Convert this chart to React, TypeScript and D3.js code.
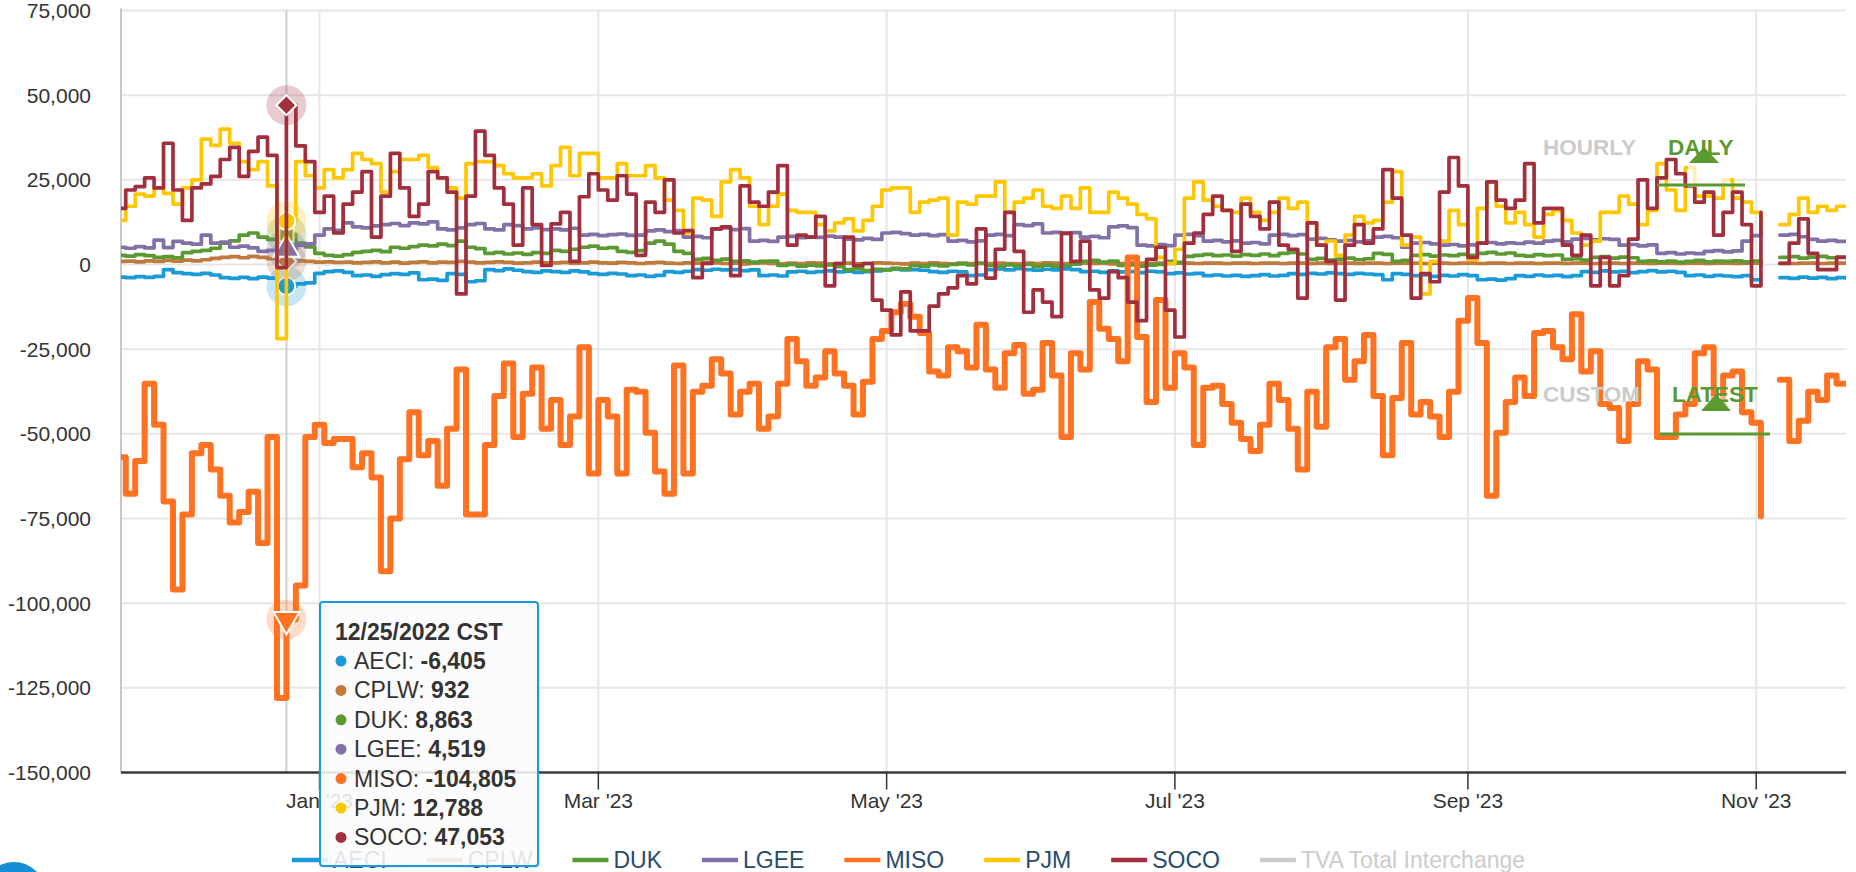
import React, { useRef, useEffect } from 'react';
import * as d3 from 'd3';

const WIDTH = 1856;
const HEIGHT = 872;
const PLOT = { left: 121, right: 1846, top: 10.5, bottom: 772.5 };
const FONT = '"Liberation Sans", Arial, Helvetica, sans-serif';
const DAY_MS = 86400000;

// one value every STEP_DAYS days, starting FIRST_DAY (values in thousands of MW)
const FIRST_DAY = Date.UTC(2022, 10, 19);
const STEP_DAYS = 2;
const HOVER_INDEX = 18; // 12/25/2022

const X_DOMAIN = [new Date(Date.UTC(2022, 10, 20)), new Date(Date.UTC(2023, 10, 20))];
const X_TICKS = [Date.UTC(2023, 0, 1), Date.UTC(2023, 2, 1), Date.UTC(2023, 4, 1), Date.UTC(2023, 6, 1), Date.UTC(2023, 8, 1), Date.UTC(2023, 10, 1)];
const X_TICK_LABELS = ["Jan '23", "Mar '23", "May '23", "Jul '23", "Sep '23", "Nov '23"];
const Y_TICKS = [-150000, -125000, -100000, -75000, -50000, -25000, 0, 25000, 50000, 75000];

const AECI = [
  -3.7, -3.9, -3.6, -3.8, -3.5, -1.5, -2.4, -2.7, -2.9, -2.6, -3.1, -3.9, -4.1, -3.8, -4.2, -3.7, -4.0, -5.0, -6.405, -5.7,
  -5.4, -2.6, -2.1, -1.9, -2.3, -3.3, -3.1, -3.5, -3.0, -2.7, -2.9, -2.5, -4.5, -4.3, -4.7, -2.7, -2.9, -5.1, -4.8, -1.5,
  -1.8, -1.3, -1.7, -2.1, -2.3, -1.9,
  -2.1, -2.3, -1.9, -2.2, -2.7, -2.9, -2.6, -2.8, -3.3, -3.1, -3.5, -3.2, -2.1, -2.3, -2.0, -1.5, -1.7, -1.4, -1.6, -1.5,
  -1.8, -1.6, -3.3, -3.1, -3.4, -2.2, -2.0, -2.3, -2.1, -1.9, -2.2, -2.0, -2.3, -2.1, -1.9, -1.5, -1.4, -1.6, -1.5, -1.7,
  -2.1, -2.3, -2.0, -2.2, -3.3, -3.1,
  -1.5, -1.3, -1.6, -1.2, -1.5, -1.7, -1.4, -1.6, -1.3, -1.5, -2.1, -2.0, -2.3, -1.9, -2.2, -2.1, -2.4, -2.0, -2.2, -2.7,
  -2.5, -2.8, -2.6, -3.3, -3.1, -3.4, -3.2, -3.5, -3.3, -3.0, -3.4, -3.2, -2.7, -2.9, -2.6, -2.8, -2.5, -2.7, -2.9, -2.6,
  -2.8, -3.0, -4.5, -2.7, -2.9,
  -3.3, -3.1, -3.5, -3.2, -3.4, -3.0, -3.3, -4.5, -4.3, -4.6, -4.2, -3.3, -3.5, -3.1, -3.4, -3.2, -3.6, -3.3, -2.1, -2.3,
  -1.9, -2.2, -2.0, -2.4, -2.1, -1.8, -2.2, -2.0, -2.3, -3.3, -3.1, -3.5, -3.2, -3.4, -3.6, -3.3, -4.5, -4.7, null,
  -3.9, -4.1, -3.7, -4.0, -3.8, -4.2, -3.9, -4.0,
];

const CPLW = [
  0.9, 1.0, 0.8, 1.1, 0.9, 1.2, 1.0, 1.3, 1.1, 1.4, 1.8, 2.1, 2.3, 2.0, 2.4, 2.1, 1.7, 1.2, 0.932, 1.1,
  0.9, 0.7, 0.8, 0.6, 0.7, 0.5, 0.6, 0.8, 0.5, 0.7, 0.4, 0.6, 0.8, 0.5, 0.7, 0.6, 0.9, 0.7, 0.5, 0.6,
  0.8, 0.6, 0.4, 0.5, 0.7, 0.5,
  0.5, 0.6, 0.4, 0.5, 0.7, 0.5, 0.4, 0.6, 0.5, 0.3, 0.5, 0.6, 0.4, 0.3, 0.5, 0.4, 0.6, 0.5, 0.3, 0.4,
  0.2, 0.4, 0.5, 0.3, 0.2, 0.4, 0.3, 0.5, 0.4, 0.2, 0.3, 0.4, 0.2, 0.3, 0.5, 0.4, 0.3, 0.2, 0.4, 0.3,
  0.5, 0.3, 0.2, 0.4, 0.3, 0.4,
  0.3, 0.4, 0.3, 0.2, 0.4, 0.3, 0.5, 0.4, 0.3, 0.2, 0.4, 0.3, 0.4, 0.2, 0.3, 0.5, 0.4, 0.3, 0.4, 0.3,
  0.4, 0.4, 0.3, 0.4, 0.4, 0.3, 0.4, 0.4, 0.3, 0.4, 0.4, 0.3, 0.4, 0.4, 0.3, 0.4, 0.3, 0.4, 0.4, 0.3,
  0.4, 0.4, 0.3, 0.4, 0.4,
  0.4, 0.3, 0.4, 0.4, 0.3, 0.4, 0.4, 0.3, 0.4, 0.4, 0.3, 0.4, 0.4, 0.3, 0.4, 0.4, 0.3, 0.4, 0.4, 0.3,
  0.4, 0.4, 0.3, 0.4, 0.4, 0.3, 0.4, 0.4, 0.3, 0.4, 0.4, 0.3, 0.4, 0.4, 0.3, 0.4, 0.4, 0.3, null,
  0.4, 0.3, 0.4, 0.4, 0.3, 0.4, 0.4, 0.3,
];

const DUK = [
  2.7, 2.5, 2.9, 2.6, 2.1, 2.3, 2.0, 3.5, 3.9, 4.2, 4.8, 6.3, 7.0, 8.7, 9.3, 8.1, 7.4, 6.9, 8.863, 6.3,
  5.2, 3.3, 2.7, 2.5, 2.9, 3.6, 3.9, 4.2, 3.8, 5.1, 4.8, 5.3, 5.7, 5.5, 6.0, 5.6, 6.9, 5.1, 4.7, 3.3,
  3.6, 3.1, 3.4, 3.0, 3.5, 3.3,
  4.2, 3.9, 4.5, 5.1, 5.4, 4.8, 5.0, 3.9, 3.6, 4.1, 6.3, 6.9, 6.0, 3.9, 3.3, 1.5, 1.8, 1.2, 1.6, 0.9,
  1.1, 0.7, 0.9, 1.0, -0.3, 0.0, -0.5, -0.2, -0.4, -0.1, -0.6, -1.5, -1.2, -1.8, -1.4, -1.6, -1.1, -1.3, -0.3, -0.5,
  -0.1, -0.4, 0.0, 0.2, -0.1, 0.3,
  -0.3, -0.5, -0.1, -0.4, 0.0, -0.6, -0.2, -0.5, -0.3, 0.1, 0.9, 1.2, 0.7, 1.0, -0.3, -0.1, -0.5, -0.2, 0.0, 0.9,
  0.6, 2.4, 2.7, 3.0, 2.6, 2.8, 2.5, 2.9, 2.7, 3.1, 2.6, 3.3, 3.6, 3.1, 1.5, 1.8, 1.3, 1.6, 1.9, 1.4,
  1.7, 3.3, 3.0, 0.9, 1.2,
  2.7, 2.9, 2.5, 2.8, 2.6, 3.0, 2.7, 3.3, 3.6, 3.1, 3.4, 2.7, 2.5, 2.9, 2.6, 2.8, 1.5, 1.7, 1.3, 2.1,
  2.3, 1.9, 2.2, 2.0, 0.9, 1.1, 0.8, 1.0, 0.7, 0.9, 1.2, 0.8, 1.0, 0.9, 1.1, 0.8, 1.0, 0.9, null,
  2.1, 2.3, 1.9, 2.2, 2.4, 2.0, 2.2, 2.1,
];

const LGEE = [
  5.1, 4.8, 5.3, 4.9, 7.2, 5.0, 6.8, 6.3, 6.0, 8.7, 6.3, 6.6, 5.1, 5.4, 4.9, 3.9, 4.2, 3.7, 4.519, 5.7,
  6.1, 8.7, 10.5, 10.1, 12.3, 11.1, 10.8, 11.4, 11.8, 12.1, 11.5, 12.3, 12.0, 12.6, 10.5, 10.2, 10.8, 11.8, 12.1, 10.5,
  10.2, 11.8, 11.5, 10.5, 10.8, 10.3,
  10.5, 10.2, 10.7, 8.7, 8.9, 8.5, 8.8, 9.0, 8.6, 8.7, 9.9, 10.2, 9.7, 10.0, 8.1, 8.3, 7.9, 10.5, 10.8, 10.3,
  10.6, 6.9, 7.1, 6.8, 8.1, 8.3, 7.9, 8.2, 8.0, 8.4, 8.1, 7.5, 7.3, 7.7, 7.4, 9.3, 9.5, 9.1, 8.7, 8.9,
  8.5, 8.8, 6.9, 7.1, 6.7, 7.0,
  8.7, 8.9, 8.5, 11.8, 11.5, 12.0, 9.3, 9.5, 9.1, 9.4, 8.1, 8.3, 7.9, 11.1, 11.4, 10.9, 5.7, 5.5, 5.9, 5.6,
  8.7, 8.9, 8.5, 6.9, 7.1, 6.7, 7.0, 6.3, 6.5, 6.1, 8.7, 8.9, 8.5, 8.8, 7.5, 7.7, 7.3, 6.9, 7.1, 6.7,
  7.0, 8.1, 8.3, 7.9, 5.1,
  6.3, 6.5, 6.1, 5.7, 5.9, 5.5, 5.8, 6.3, 6.5, 6.1, 6.4, 6.2, 6.6, 6.3, 6.9, 7.1, 6.7, 7.5, 7.7, 7.3,
  7.6, 7.4, 5.7, 5.9, 5.5, 5.8, 3.3, 3.5, 3.1, 3.4, 3.2, 3.9, 4.1, 3.7, 4.0, 6.9, 8.5, 10.5, null,
  8.7, 8.9, 8.2, 7.4, 6.9, 7.1, 6.8, 6.9,
];

const MISO = [
  -56.9, -67.7, -58, -35.2, -47.3, -70, -96, -73.8, -55.7, -53.3, -60.5, -68.3, -76.2, -73.1, -67.1, -82.2, -50.9, -128, -104.805, -94.8,
  -50.9, -47.3, -52.7, -51.5, -51.5, -59.9, -55.7, -62.9, -90.6, -75, -57.5, -43.6, -56.3, -52.1, -65.3, -48.5, -31, -73.8, -73.8, -53.3,
  -38.8, -29.2, -50.9, -38.2, -30.4, -48.5, -40, -53.3, -44.9, -24.4, -61.7, -40, -44.9, -61.7, -37, -37.6, -49.7, -61.1, -67.7, -29.8,
  -61.7, -37.6, -35.8, -28, -32.2, -44.3, -37.6, -35.2, -48.5, -44.9, -35.2, -22, -28.6, -35.8, -33.4, -25.6, -32.2, -35.8, -44.3, -34.6,
  -22, -19.6, -14.1, -11.7, -15.4, -20.2, -31.6, -32.8, -24.4, -25.6, -30.4, -17.8, -31, -36.4, -26.2, -23.8, -38.2, -37, -23.2, -32.8,
  -50.9, -26.2, -31, -11.1, -19, -22, -28.6, 2.1, -21.4, -40.6, -10.5, -36.4, -26.2, -30.4, -53.3, -36.4, -35.8, -41.2, -46.7, -51.5,
  -55.1, -47.3, -35.2, -40, -48.5, -60.5, -37.6, -47.9, -24.4, -22, -34, -28.6, -20.8, -38.8, -56.3, -39.4, -23.2, -44.3, -40.6, -44.9,
  -50.9, -37.6, -16.6, -9.9, -23.2, -68.3, -49.7, -40.6, -33.4, -38.8, -20.2, -19.6, -24.4, -28, -14.7, -31.6, -25.6, -41.2, -42.4, -52.1,
  -41.2, -28.6, -31, -50.9, -50.9, -44.3, -41.2, -26.2, -24.4, -41.2, -32.8, -31.6, -43.6, -46.7, -74.3, null, -34, -52.1, -46.1, -37.6,
  -40, -32.8, -35.2, -35.2,
];

const PJM = [
  13, 17.2, 20.8, 20.2, 22.6, 21, 17.8, 22.6, 25, 37, 35.2, 40, 35.8, 30.4, 28, 30.4, 23.2, -21.9, 12.788, 30.4,
  26.2, 22.6, 28, 25.6, 28, 32.8, 31, 29.8, 21.4, 27.4, 31, 31, 32.2, 28.6, 25.6, 22.6, 19.6, 29.8, 30.4, 30.4,
  29.2, 26.8, 25.6, 25.6, 26.8, 23.2, 29.2, 34.6, 26.2, 32.8, 32.8, 25.6, 25.6, 29.8, 26.2, 26.2, 29.2, 25.6, 19, 16,
  9.3, 19.6, 19, 14.2, 24.4, 28, 25.6, 17.2, 11.8, 17.2, 20.8, 16, 15.4, 15.4, 11.8, 9.9, 12.3, 13.5, 9.9, 13,
  17.2, 22, 22.6, 22.6, 15.4, 18.4, 19, 19.6, 8.7, 18.4, 17.8, 20.2, 20.2, 24.4, 15.4, 18.4, 19.6, 22, 17.2, 16.6,
  20.2, 16.6, 22.6, 15.4, 15.4, 21.4, 19.6, 17.8, 14.8, 13.5, 2.1, 0.3, 4.5, 19.6, 24.4, 19, 17.2, 16, 15.4, 19.6,
  15.4, 13, 15.4, 19.6, 16.6, 18.4, 12.3, 5.7, 6.9, 2.7, 8.7, 14.2, 12.3, 13, 18.4, 27.4, 5.7, 8.1, -8.7, 0.9,
  6.9, 16, 11.8, 1.5, 16.6, 24.4, 17.2, 12.3, 15.4, 11.8, 8.1, 14.8, 16, 13, 9.3, 5.7, 6.9, 15.4, 15.4, 20.2,
  17.8, 11.8, 16, 29.8, 22, 16, 28.6, 20.2, 20.2, 19.6, 25, 19.6, 18.4, 15.4, 10.5, null, 11.8, 14.8, 19.6, 15.4,
  17.2, 16, 17.2, 17.2,
];

const SOCO = [
  16.6, 22, 23, 25.6, 22.6, 35.8, 22, 13, 22.6, 23.8, 26, 31, 34.6, 26, 33.4, 37.6, 32.2, -0.9, 47.053, 35,
  30.4, 15.4, 20.2, 9.3, 17.8, 21.4, 27.4, 8.1, 20.2, 32.8, 22.6, 14.2, 17.8, 27.4, 25.6, 21.4, -8.7, 20.2, 39.4, 32.2,
  22.6, 17.8, 5.7, 22.6, 11.8, -0.3, 12, 15.4, 0.9, 20, 26.8, 22, 19, 26.2, 20.8, 2.7, 18.4, 15.4, 25, 9.3,
  10, -3.9, 0.3, 10.5, 11.1, -3.3, 23.2, 18.4, 17.2, 21.4, 29.2, 5.7, 8.7, 8.1, 14.2, -6.3, 0.3, 8.1, -0.3, 0.3,
  -10.5, -13.5, -20.8, -8.1, -19.6, -19.6, -12.3, -8.7, -6.9, -3.3, -5.7, 10.5, -4, 4.5, 15.4, 3.9, -14.1, -7.5, -11.1, -15.4,
  9.3, 0.9, 6.9, -7.5, -9.9, -2.1, -3.9, -11.1, -16.6, 1.5, 5.1, -13.5, -21.4, 6.3, 9.3, 14.8, 20.2, 16, 3.9, 17.8,
  14.2, 10.5, 18.4, 5.7, 4.5, -9.9, 12.3, 5.7, 0.9, -10.5, 5.7, 11.8, 6.3, 10.5, 28, 19.6, 8.7, -9.9, -2.7, -5.1,
  21.4, 31.6, 23.2, 2.1, 6.3, 24.4, 19, 16.6, 19, 29.8, 12.3, 16.6, 16.6, 5.7, 2.7, 8.7, -6.3, 2.1, -6.3, -3.3,
  7.5, 25, 16.6, 25.6, 31, 26.8, 23.2, 18.4, 21.4, 8.7, 15.4, 21.4, 11.8, -6.3, 15.4, null, 0.3, 6.3, 13.5, 3.3,
  -1.5, -1.5, 2.1, 2.1,
];

const SERIES_NAMES = ['AECI', 'CPLW', 'DUK', 'LGEE', 'MISO', 'PJM', 'SOCO', 'TVA Total Interchange'];
const SERIES_VALUES = [AECI, CPLW, DUK, LGEE, MISO, PJM, SOCO, []];
const SERIES_COLORS = ['#1b9ad8', '#c07a3c', '#5b9a32', '#8171a6', '#ff7222', '#ffc700', '#a22f3e', '#cccccc'];
const SERIES_WIDTHS = [3.7, 3.7, 3.7, 3.7, 6, 3.7, 3.7, 3.7];
const SERIES_SYMBOLS = ['circle', 'diamond', 'square', 'triangle', 'triangle-down', 'circle', 'diamond', 'square'];
const SERIES_HIDDEN = [false, false, false, false, false, false, false, true];

type Pt = { date: Date; value: number | null };

export default function App() {
  const svgRef = useRef<SVGSVGElement>(null);

  useEffect(() => {
    const svg = d3.select(svgRef.current);
    svg.selectAll('*').remove();

    const x = d3.scaleUtc().domain(X_DOMAIN).range([PLOT.left, PLOT.right]);
    const y = d3.scaleLinear().domain([-150000, 75000]).range([PLOT.bottom, PLOT.top]);
    const fmt = d3.formatLocale({ decimal: '.', thousands: ',', grouping: [3], currency: ['$', ''], minus: '-' }).format(',');

    const series = SERIES_NAMES.map((name, i) => ({
      name,
      color: SERIES_COLORS[i],
      width: SERIES_WIDTHS[i],
      symbol: SERIES_SYMBOLS[i],
      hidden: SERIES_HIDDEN[i],
      points: (SERIES_VALUES[i] as (number | null)[]).map((v, k) => ({
        date: new Date(FIRST_DAY + k * STEP_DAYS * DAY_MS),
        value: v == null ? null : Math.round(v * 1000),
      })) as Pt[],
    }));

    svg.append('rect').attr('width', WIDTH).attr('height', HEIGHT).attr('fill', '#fff');

    // Grid
    svg.append('g').selectAll('line')
      .data(Y_TICKS.filter(t => t !== -150000))
      .join('line')
      .attr('x1', PLOT.left).attr('x2', PLOT.right)
      .attr('y1', d => y(d)).attr('y2', d => y(d))
      .attr('stroke', '#e6e6e6').attr('stroke-width', 2);

    svg.append('g').selectAll('line')
      .data(X_TICKS)
      .join('line')
      .attr('x1', d => x(new Date(d))).attr('x2', d => x(new Date(d)))
      .attr('y1', PLOT.top).attr('y2', PLOT.bottom)
      .attr('stroke', '#e6e6e6').attr('stroke-width', 2);

    // Y axis
    svg.append('line')
      .attr('x1', PLOT.left).attr('x2', PLOT.left)
      .attr('y1', PLOT.top - 2).attr('y2', PLOT.bottom)
      .attr('stroke', '#c8c8c8').attr('stroke-width', 2);

    svg.append('g').selectAll('text')
      .data(Y_TICKS)
      .join('text')
      .attr('x', 91).attr('y', d => y(d) + 7.5)
      .attr('text-anchor', 'end')
      .attr('font-family', FONT).attr('font-size', 21).attr('fill', '#333')
      .text(d => fmt(d));

    // Crosshair at hovered point
    const hoverDate = series[0].points[HOVER_INDEX].date;
    const hx = x(hoverDate);
    svg.append('line')
      .attr('x1', hx).attr('x2', hx)
      .attr('y1', PLOT.top).attr('y2', PLOT.bottom)
      .attr('stroke', '#cfcfcf').attr('stroke-width', 2);

    // Series
    svg.append('clipPath').attr('id', 'plot-clip')
      .append('rect')
      .attr('x', PLOT.left).attr('y', PLOT.top - 5)
      .attr('width', PLOT.right - PLOT.left).attr('height', PLOT.bottom - PLOT.top + 5);

    const lineGen = d3.line<Pt>()
      .defined(d => d.value != null)
      .x(d => x(d.date))
      .y(d => y(d.value as number))
      .curve(d3.curveStepAfter);

    const symbolPath = (name: string) => {
      if (name === 'circle') return d3.symbol(d3.symbolCircle, 250)();
      if (name === 'square') return d3.symbol(d3.symbolSquare, 200)();
      if (name === 'diamond') return d3.symbol(d3.symbolSquare, 200)();
      return d3.symbol(d3.symbolTriangle, 290)();
    };
    const symbolRotate = (name: string) => (name === 'diamond' ? 45 : name === 'triangle-down' ? 180 : 0);

    const seriesLayer = svg.append('g');
    series.forEach(s => {
      if (s.hidden) return;
      const g = seriesLayer.append('g');
      g.append('path')
        .datum(s.points)
        .attr('d', lineGen)
        .attr('clip-path', 'url(#plot-clip)')
        .attr('fill', 'none')
        .attr('stroke', s.color)
        .attr('stroke-width', s.width)
        .attr('stroke-linejoin', 'round')
        .attr('stroke-linecap', 'round');

      const p = s.points[HOVER_INDEX];
      if (p && p.value != null) {
        const py = y(p.value);
        g.append('circle')
          .attr('cx', hx).attr('cy', py).attr('r', 20)
          .attr('fill', s.color).attr('fill-opacity', 0.25);
        g.append('path')
          .attr('d', symbolPath(s.symbol))
          .attr('transform', `translate(${hx},${py}) rotate(${symbolRotate(s.symbol)})`)
          .attr('fill', s.color)
          .attr('stroke', '#fff').attr('stroke-width', 2);
      }
    });

    // X axis
    svg.append('line')
      .attr('x1', PLOT.left).attr('x2', PLOT.right)
      .attr('y1', PLOT.bottom).attr('y2', PLOT.bottom)
      .attr('stroke', '#3a3a3a').attr('stroke-width', 2.5);

    const xTicks = svg.append('g').selectAll('g')
      .data(X_TICKS)
      .join('g')
      .attr('transform', d => `translate(${x(new Date(d))},0)`);
    xTicks.append('line')
      .attr('y1', PLOT.bottom).attr('y2', PLOT.bottom + 17)
      .attr('stroke', '#333').attr('stroke-width', 1.5);
    xTicks.append('text')
      .attr('y', 808)
      .attr('text-anchor', 'middle')
      .attr('font-family', FONT).attr('font-size', 21).attr('fill', '#333')
      .text((d, i) => X_TICK_LABELS[i]);

    // Range selector labels drawn over the plot
    const green = '#5b9a2f';
    const sel = svg.append('g').attr('font-family', FONT).attr('font-weight', 'bold').attr('font-size', 22.5);
    sel.append('text').attr('x', 1543).attr('y', 155).attr('fill', '#cccccc').text('HOURLY');
    sel.append('text').attr('x', 1543).attr('y', 402).attr('fill', '#cccccc').text('CUSTOM');
    sel.append('rect').attr('x', 1688).attr('y', 151).attr('width', 42).attr('height', 36).attr('fill', '#fff').attr('fill-opacity', 0.7);
    sel.append('rect').attr('x', 1700).attr('y', 396).attr('width', 34).attr('height', 38).attr('fill', '#fff').attr('fill-opacity', 0.5);
    sel.append('line').attr('x1', 1657).attr('x2', 1745).attr('y1', 185).attr('y2', 185).attr('stroke', green).attr('stroke-width', 3);
    sel.append('line').attr('x1', 1660).attr('x2', 1770).attr('y1', 434).attr('y2', 434).attr('stroke', green).attr('stroke-width', 3);
    sel.append('text').attr('x', 1668).attr('y', 155).attr('fill', green).text('DAILY');
    sel.append('text').attr('x', 1672).attr('y', 402).attr('fill', green).text('LATEST');
    sel.append('path').attr('d', 'M1704,147 L1719,163 L1689,163 Z').attr('fill', green);
    sel.append('path').attr('d', 'M1716,394 L1731,411 L1701,411 Z').attr('fill', green);

    // Legend
    const legend = svg.append('g').attr('font-family', FONT).attr('font-size', 23);
    let lx = 292;
    series.forEach(s => {
      legend.append('line')
        .attr('x1', lx).attr('x2', lx + 36)
        .attr('y1', 860).attr('y2', 860)
        .attr('stroke', s.color).attr('stroke-width', 4.5);
      const t = legend.append('text')
        .attr('x', lx + 41).attr('y', 868)
        .attr('fill', s.hidden ? '#cccccc' : '#274b6d')
        .text(s.name);
      const w = (t.node() as SVGTextElement).getComputedTextLength();
      lx += 41 + w + 40;
    });

    // Tooltip
    const tip = svg.append('g').attr('font-family', FONT);
    tip.append('rect')
      .attr('x', 322).attr('y', 604).attr('width', 218).attr('height', 264).attr('rx', 3)
      .attr('fill', '#000').attr('fill-opacity', 0.08);
    tip.append('rect')
      .attr('x', 320).attr('y', 602).attr('width', 218).attr('height', 264).attr('rx', 3)
      .attr('fill', '#fff').attr('fill-opacity', 0.86)
      .attr('stroke', SERIES_COLORS[0]).attr('stroke-width', 2);
    tip.append('text')
      .attr('x', 335).attr('y', 640)
      .attr('font-size', 23).attr('font-weight', 'bold').attr('fill', '#333')
      .text(`${d3.utcFormat('%m/%d/%Y')(hoverDate)} CST`);
    series.filter(s => !s.hidden).forEach((s, i) => {
      const ry = 661 + i * 29.4;
      tip.append('circle').attr('cx', 341).attr('cy', ry).attr('r', 5.5).attr('fill', s.color);
      const t = tip.append('text')
        .attr('x', 354).attr('y', ry + 8)
        .attr('font-size', 23).attr('fill', '#333');
      t.append('tspan').text(`${s.name}: `);
      t.append('tspan').attr('font-weight', 'bold').text(fmt(s.points[HOVER_INDEX].value as number));
    });

    // Help button peeking in at the bottom-left corner
    svg.append('circle').attr('cx', 14).attr('cy', 893).attr('r', 31).attr('fill', '#168ed6');
  }, []);

  return (
    <div style={{ position: 'absolute', left: 0, top: 0 }}>
      <svg ref={svgRef} width={WIDTH} height={HEIGHT} style={{ display: 'block' }} />
    </div>
  );
}
